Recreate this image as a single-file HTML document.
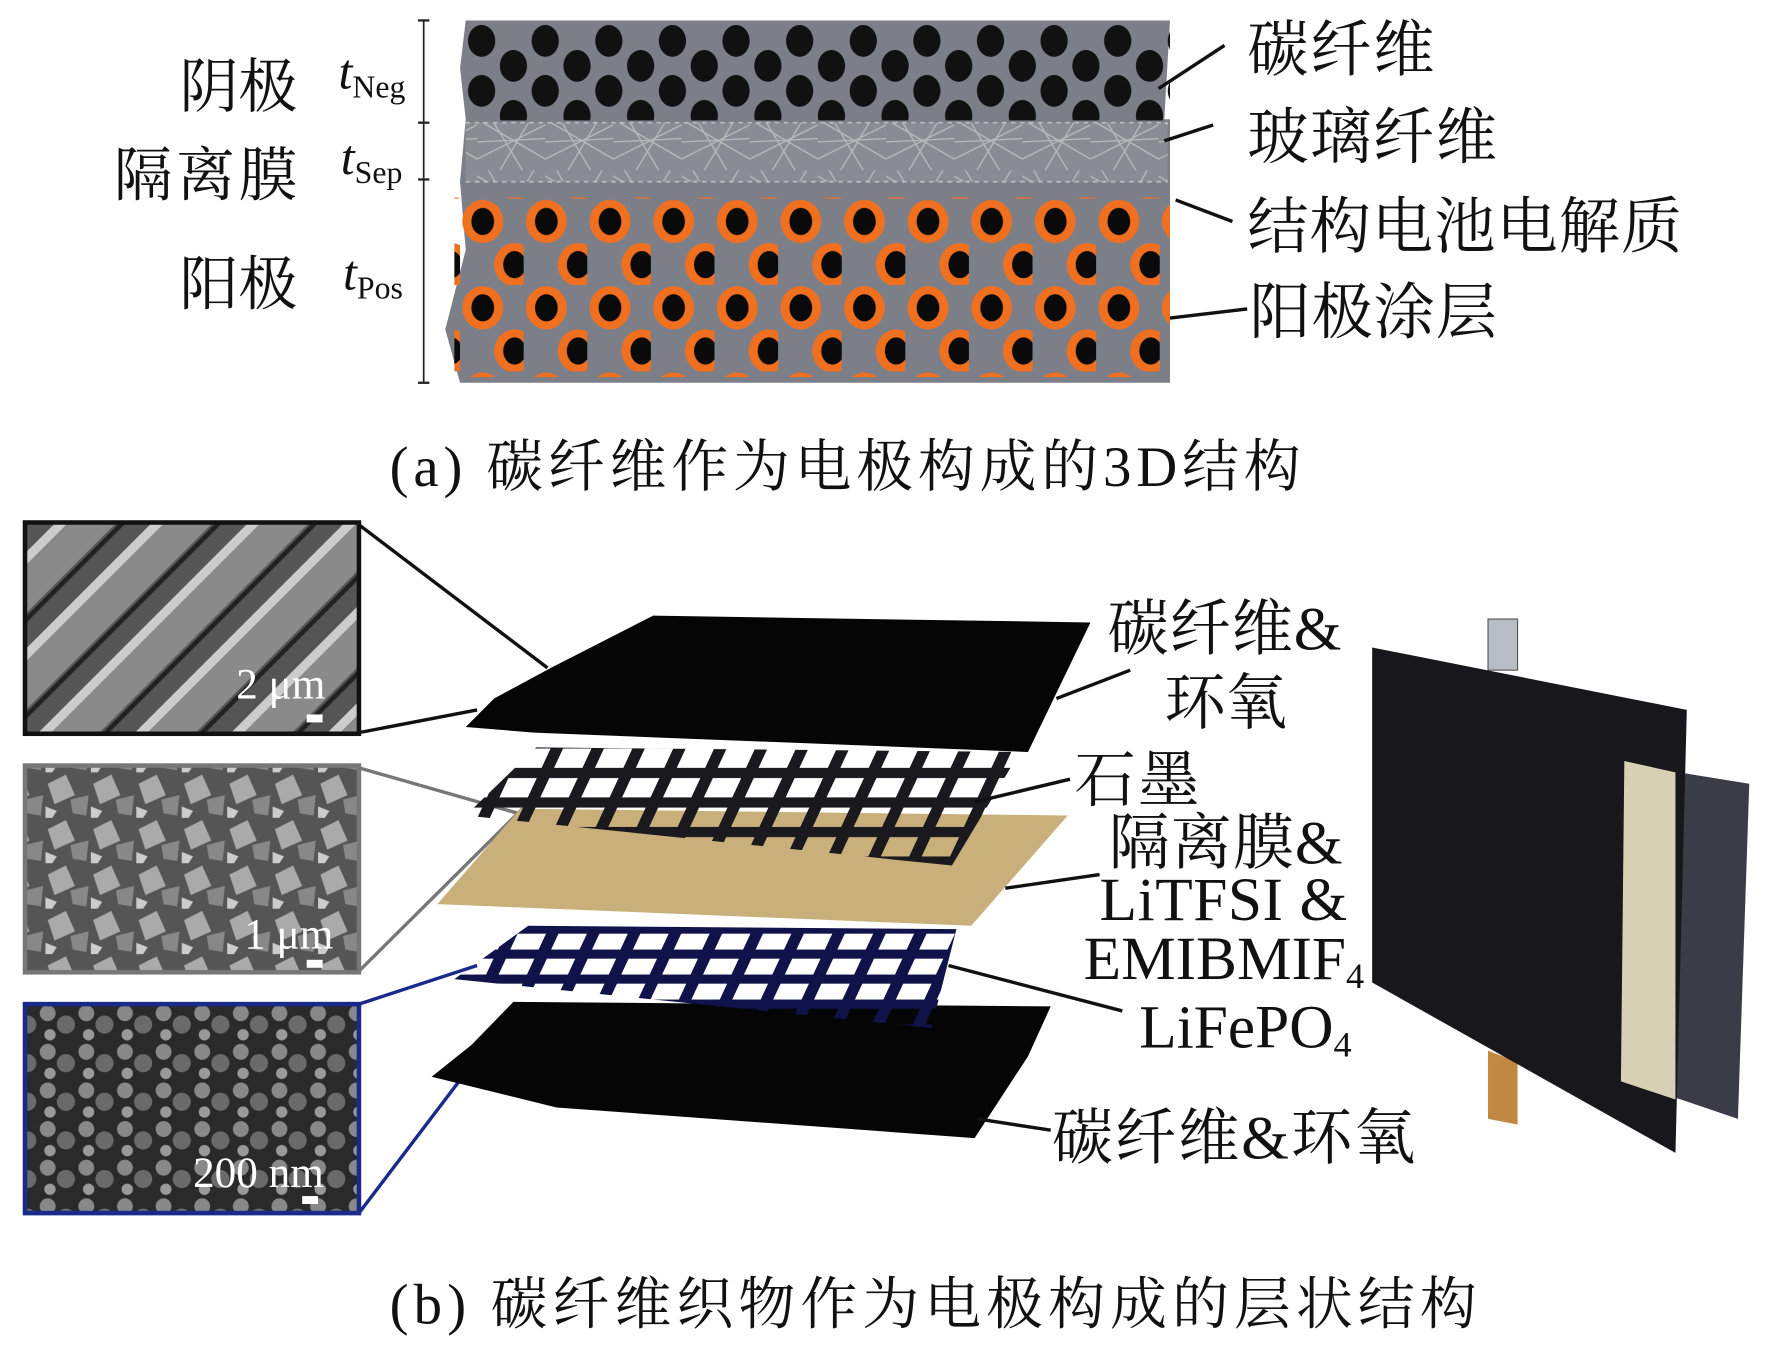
<!DOCTYPE html>
<html><head><meta charset="utf-8">
<style>
html,body{margin:0;padding:0;background:#fff;}
svg{display:block;}
text{font-family:"Liberation Serif","Noto Serif CJK SC","Noto Sans CJK SC",serif;fill:#111;}
</style></head><body>
<svg width="1772" height="1346" viewBox="0 0 1560 1185" preserveAspectRatio="none" xmlns="http://www.w3.org/2000/svg">
<defs>
<pattern id="neg" width="56" height="88" patternUnits="userSpaceOnUse" x="410" y="22">
<ellipse cx="14" cy="14" rx="12" ry="14" fill="#111"/>
<ellipse cx="42" cy="36" rx="12" ry="14" fill="#111"/>
<ellipse cx="14" cy="58" rx="12" ry="14" fill="#111"/>
<ellipse cx="42" cy="80" rx="12" ry="14" fill="#111"/>
</pattern>
<pattern id="pos" width="56" height="76" patternUnits="userSpaceOnUse" x="405" y="175">
<ellipse cx="20" cy="20" rx="18" ry="19" fill="#f07020"/>
<ellipse cx="20" cy="20" rx="10" ry="12" fill="#0a0a0a"/>
<ellipse cx="48" cy="58" rx="18" ry="19" fill="#f07020"/>
<ellipse cx="48" cy="58" rx="10" ry="12" fill="#0a0a0a"/>
</pattern>
<pattern id="fib" width="60" height="50" patternUnits="userSpaceOnUse">
<path d="M0 5 L60 40 M0 40 L60 10 M10 0 L40 50 M50 0 L20 50 M0 25 L60 22" stroke="#b8b8b8" stroke-width="1.2" fill="none"/>
</pattern>
<pattern id="grid" width="36" height="26" patternUnits="userSpaceOnUse" patternTransform="skewX(-25)">
<rect x="0" y="0" width="36" height="9" fill="#1a1a1e"/>
<rect x="0" y="0" width="11" height="26" fill="#1a1a1e"/>
</pattern>
<pattern id="bgrid" width="36" height="22" patternUnits="userSpaceOnUse" patternTransform="skewX(-25)">
<rect x="0" y="0" width="36" height="8" fill="#10124a"/>
<rect x="0" y="0" width="11" height="22" fill="#10124a"/>
</pattern>
<pattern id="sem1" width="60" height="60" patternUnits="userSpaceOnUse" patternTransform="rotate(45)">
<rect width="60" height="60" fill="#555"/>
<rect x="0" width="8" height="60" fill="#ccc"/>
<rect x="8" width="30" height="60" fill="#8a8a8a"/>
<rect x="40" width="4" height="60" fill="#222"/>
</pattern>
<pattern id="sem2" width="40" height="40" patternUnits="userSpaceOnUse">
<rect width="40" height="40" fill="#555"/>
<path d="M2 10 L18 2 L26 20 L8 28Z" fill="#aaa"/>
<path d="M22 24 L38 20 L36 38 L24 36Z" fill="#888"/>
<path d="M0 30 L10 34 L6 40 L0 40Z" fill="#ccc"/>
</pattern>
<pattern id="sem3" width="34" height="34" patternUnits="userSpaceOnUse">
<rect width="34" height="34" fill="#2a2a2a"/>
<circle cx="8" cy="8" r="7" fill="#888"/>
<circle cx="24" cy="18" r="8" fill="#6a6a6a"/>
<circle cx="10" cy="27" r="5" fill="#999"/>
</pattern>
</defs>

<!-- Panel (a) -->
<polygon points="410,18 1030,18 1025,105 1030,105 1030,337 405,337 392,290 410,220 405,160 410,105 405,60" fill="#7d7f88"/>
<rect x="410" y="22" width="620" height="84" fill="url(#neg)"/>
<rect x="410" y="108" width="618" height="52" fill="#8a8c94"/>
<rect x="410" y="108" width="618" height="52" fill="url(#fib)"/>
<line x1="410" y1="108" x2="1028" y2="108" stroke="#bbb" stroke-width="1.5" stroke-dasharray="4,4"/>
<line x1="410" y1="160" x2="1028" y2="160" stroke="#bbb" stroke-width="1.5" stroke-dasharray="4,4"/>
<rect x="400" y="174" width="630" height="158" fill="url(#pos)"/>
<line x1="373" y1="18" x2="373" y2="337" stroke="#222" stroke-width="1.5"/>
<g stroke="#222" stroke-width="2"><line x1="368" y1="18" x2="378" y2="18"/><line x1="368" y1="108" x2="378" y2="108"/><line x1="368" y1="158" x2="378" y2="158"/><line x1="368" y1="337" x2="378" y2="337"/></g>
<text x="158" y="94" font-size="52" textLength="104">阴极</text>
<text x="100" y="172" font-size="52" textLength="162">隔离膜</text>
<text x="158" y="268" font-size="52" textLength="104">阳极</text>
<text x="298" y="78" font-size="44" font-style="italic">t<tspan font-size="28" font-style="normal" dy="8">Neg</tspan></text>
<text x="300" y="153" font-size="44" font-style="italic">t<tspan font-size="28" font-style="normal" dy="8">Sep</tspan></text>
<text x="302" y="255" font-size="44" font-style="italic">t<tspan font-size="28" font-style="normal" dy="8">Pos</tspan></text>
<g stroke="#111" stroke-width="3">
<line x1="1078" y1="40" x2="1020" y2="78"/>
<line x1="1068" y1="110" x2="1025" y2="124"/>
<line x1="1085" y1="195" x2="1035" y2="176"/>
<line x1="1098" y1="272" x2="1030" y2="280"/>
</g>
<text x="1098" y="62" font-size="54" textLength="165">碳纤维</text>
<text x="1098" y="139" font-size="54" textLength="220">玻璃纤维</text>
<text x="1098" y="218" font-size="54" textLength="383">结构电池电解质</text>
<text x="1100" y="293" font-size="54" textLength="218">阳极涂层</text>
<text x="343" y="428" font-size="50" textLength="802">(a) 碳纤维作为电极构成的3D结构</text>

<!-- Panel (b) -->
<rect x="22" y="460" width="294" height="186" fill="url(#sem1)" stroke="#111" stroke-width="4"/>
<rect x="22" y="674" width="294" height="182" fill="url(#sem2)" stroke="#777" stroke-width="4"/>
<rect x="22" y="884" width="294" height="184" fill="url(#sem3)" stroke="#1a2a8a" stroke-width="4"/>
<text x="208" y="615" font-size="38" style="fill:#fff">2 μm</text>
<rect x="270" y="629" width="14" height="7" fill="#fff"/>
<text x="215" y="835" font-size="38" style="fill:#fff">1 μm</text>
<rect x="270" y="845" width="14" height="7" fill="#fff"/>
<text x="170" y="1045" font-size="38" style="fill:#fff">200 nm</text>
<rect x="266" y="1053" width="14" height="7" fill="#fff"/>

<g stroke-width="3" fill="none">
<line x1="316" y1="462" x2="482" y2="588" stroke="#111"/>
<line x1="316" y1="645" x2="420" y2="625" stroke="#111"/>
<line x1="316" y1="676" x2="470" y2="720" stroke="#777"/>
<line x1="316" y1="855" x2="460" y2="712" stroke="#777"/>
<line x1="316" y1="884" x2="420" y2="850" stroke="#1a2a8a"/>
<line x1="316" y1="1068" x2="455" y2="885" stroke="#1a2a8a"/>
</g>

<polygon points="452,882 925,886 905,930 858,1002 490,975 380,948 415,920" fill="#050505"/>
<polygon points="465,815 842,818 820,905 400,862" fill="url(#bgrid)"/>
<polygon points="458,712 940,718 855,815 385,796" fill="#c9b07a"/>
<polygon points="472,658 898,662 838,762 410,718" fill="url(#grid)"/>
<polygon points="575,542 960,548 905,662 470,645 410,640 435,615 485,588" fill="#050505"/>

<g stroke="#111" stroke-width="3">
<line x1="995" y1="590" x2="930" y2="615"/>
<line x1="942" y1="686" x2="858" y2="706"/>
<line x1="968" y1="770" x2="885" y2="782"/>
<line x1="988" y1="890" x2="835" y2="850"/>
<line x1="925" y1="995" x2="860" y2="985"/>
</g>
<text x="975" y="572" font-size="54" textLength="206">碳纤维&amp;</text>
<text x="1025" y="637" font-size="54" textLength="108">环氧</text>
<text x="946" y="705" font-size="54" textLength="110">石墨</text>
<text x="976" y="760" font-size="54" textLength="206">隔离膜&amp;</text>
<text x="968" y="810" font-size="54" textLength="218">LiTFSI &amp;</text>
<text x="954" y="862" font-size="54">EMIBMIF<tspan font-size="32" dy="8">4</tspan></text>
<text x="1003" y="922" font-size="54">LiFePO<tspan font-size="32" dy="8">4</tspan></text>
<text x="926" y="1020" font-size="54" textLength="320">碳纤维&amp;环氧</text>

<polygon points="1478,680 1540,690 1530,985 1474,966" fill="#3a3d48"/>
<rect x="1310" y="545" width="26" height="45" fill="#b8bcc4" stroke="#555" stroke-width="1"/>
<polygon points="1310,925 1336,935 1336,990 1310,985" fill="#c08840"/>
<polygon points="1208,570 1485,625 1475,1015 1208,865" fill="#18181c"/>
<polygon points="1430,670 1475,680 1475,968 1427,952" fill="#d8d0b4"/>
<text x="343" y="1165" font-size="50" textLength="957">(b) 碳纤维织物作为电极构成的层状结构</text>
</svg>
</body></html>
